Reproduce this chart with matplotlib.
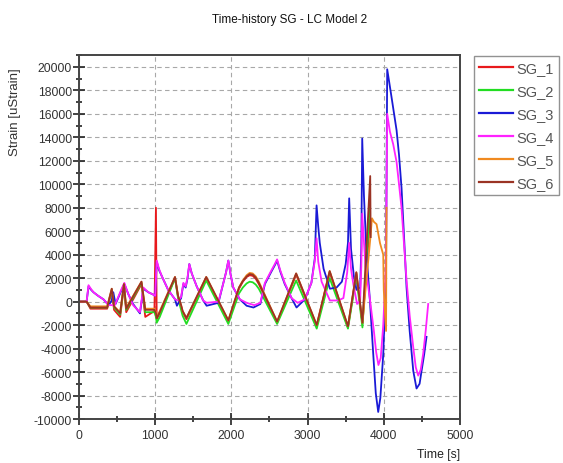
import matplotlib
matplotlib.use("Agg")
import matplotlib.pyplot as plt
from matplotlib.ticker import MultipleLocator

plt.rcParams['font.family'] = ['Liberation Sans', 'DejaVu Sans']
plt.rcParams['axes.unicode_minus'] = False

# strain gauge histories (time in s, strain in uStrain)
t_sg1 = [0, 100, 150, 370, 430, 460, 540, 590, 620, 820, 870, 990, 1010, 1020, 1060, 1260, 1300,
         1340, 1360, 1410, 1670, 1960, 2100, 2150, 2200, 2240, 2280, 2320, 2360, 2600, 2850, 3120,
         3290, 3530, 3640, 3720, 3820]
v_sg1 = [0, 0, -600, -600, 900, -700, -1300, 1300, -900, 1500, -1300, -800, 8000, -1500, -1000, 2000, 400,
         -400, -900, -1500, 2000, -1700, 1100, 1700, 2100, 2250, 2200, 1950, 1500, -1800, 2300, -2100,
         2500, -2200, 2400, -1900, 7000]

t_sg2 = [0, 100, 150, 370, 430, 460, 540, 590, 620, 820, 870, 990, 1010, 1020, 1060, 1260, 1300,
         1340, 1360, 1410, 1670, 1960, 2100, 2150, 2200, 2240, 2280, 2320, 2360, 2600, 2850, 3120,
         3290, 3530, 3640, 3720, 3815]
v_sg2 = [0, 0, -500, -500, 1000, -500, -1100, 1400, -700, 1600, -900, -900, -1300, -1800, -1300, 2000, 300,
         -700, -1200, -1900, 1800, -1900, 700, 1200, 1550, 1700, 1650, 1450, 1100, -1900, 1800, -2300,
         2000, -2300, 2100, -2200, 8000]

t_sg3 = [0, 100, 125, 160, 190, 250, 320, 390, 430, 450, 480, 560, 595, 650, 710, 800, 845, 910,
         975, 1000, 1020, 1050, 1085, 1170, 1260, 1285, 1340, 1370, 1400, 1425, 1448, 1480, 1545,
         1630, 1675, 1830, 1895, 1930, 1960, 1990, 2025, 2110, 2200, 2290, 2380, 2440, 2520, 2570,
         2600, 2640, 2700, 2790, 2855, 2965, 3050, 3095, 3118, 3140, 3160, 3210, 3293, 3380, 3450,
         3500, 3530, 3546, 3570, 3610, 3643, 3690, 3705, 3717, 3740, 3774, 3818, 3862, 3895, 3927,
         3955, 3993, 4010, 4028, 4045, 4100, 4168, 4200, 4233, 4270, 4299, 4340, 4387, 4430, 4470,
         4496, 4530, 4561]
v_sg3 = [0, 0, 1300, 1000, 800, 500, 200, -300, 100, 800, -200, 1000, 1500, 600, -200, -1000, 1100, 800,
         600, 500, 3400, 2700, 2200, 1000, 200, -350, 300, 1500, 1200, 2000, 3200, 2400, 1300,
         100, -350, -100, 1600, 2500, 3500, 2300, 1200, 200, -350, -500, -200, 1500, 2500, 3100,
         3500, 2600, 1500, 300, -500, 200, 1600, 3700, 8200, 6400, 5000, 2800, 1100, 1200, 1700,
         3200, 5000, 8800, 4500, 2000, 1000, 1200, 4500, 13900, 9000, 4000, 100, -4500, -7800, -9400,
         -8200, -4500, -1500, 1200, 19800, 17500, 14600, 12500, 9700, 5000, 1200, -2500, -5900, -7400, -7000,
         -5900, -4500, -3000]

t_sg4 = [0, 100, 125, 160, 190, 250, 320, 390, 470, 560, 595, 650, 710, 800, 845, 910, 975,
         1000, 1020, 1050, 1085, 1170, 1260, 1300, 1340, 1370, 1400, 1425, 1448, 1480, 1545, 1630,
         1675, 1830, 1895, 1930, 1960, 1990, 2025, 2110, 2200, 2300, 2380, 2440, 2520, 2570, 2600,
         2640, 2700, 2790, 2870, 2965, 3050, 3095, 3118, 3140, 3184, 3293, 3400, 3470, 3520, 3546,
         3570, 3600, 3650, 3690, 3705, 3717, 3760, 3818, 3870, 3900, 3930, 3960, 3993, 4028, 4045,
         4080, 4124, 4168, 4200, 4233, 4270, 4299, 4340, 4387, 4420, 4452, 4485, 4518, 4550, 4583]
v_sg4 = [0, 0, 1400, 1050, 800, 500, 200, -300, -300, 1100, 1600, 600, -300, -900, 1200, 800, 600,
         500, 3500, 2800, 2200, 1000, 200, 100, 400, 1600, 1300, 2100, 3200, 2400, 1300, 100,
         -100, 0, 1600, 2500, 3500, 2300, 1200, 200, -100, -300, -100, 1600, 2600, 3200, 3600,
         2700, 1600, 300, -100, 200, 1600, 3500, 5400, 3400, 1700, 100, 100, 300, 2500, 5000,
         2800, 1500, -200, 100, 3000, 7500, 3000, 200, -2500, -4300, -5400, -4800, -2000, 3000, 16000,
         14500, 13400, 11900, 10000, 8000, 4500, 1800, -1200, -3900, -5600, -6300, -5800, -4400, -2500, -200]

t_sg5 = [0, 100, 150, 370, 430, 460, 540, 590, 620, 820, 870, 990, 1010, 1020, 1060, 1260, 1300,
         1340, 1360, 1410, 1670, 1960, 2100, 2150, 2200, 2240, 2280, 2320, 2360, 2600, 2850, 3120,
         3290, 3530, 3640, 3720, 3825, 3845, 3870, 3905, 3950, 3993, 4000, 4030, 4036]
v_sg5 = [0, 0, -400, -400, 1100, -400, -900, 1500, -500, 1700, -600, -600, -900, -1300, -800, 2100, 500,
         -300, -800, -1400, 2100, -1600, 1200, 1800, 2250, 2450, 2400, 2150, 1700, -1700, 2400, -2000,
         2600, -2100, 2500, -1800, 5500, 7100, 6800, 6600, 5000, 4000, 1000, -2500, 8000]

t_sg6 = [0, 100, 150, 370, 430, 460, 540, 590, 620, 820, 870, 990, 1010, 1020, 1060, 1260, 1300,
         1340, 1360, 1410, 1670, 1960, 2100, 2150, 2200, 2240, 2280, 2320, 2360, 2600, 2850, 3120,
         3290, 3530, 3640, 3720, 3822, 3828]
v_sg6 = [0, 0, -500, -500, 1100, -400, -1000, 1500, -600, 1700, -700, -700, -1000, -1400, -900, 2100, 500,
         -300, -800, -1400, 2100, -1600, 1200, 1750, 2150, 2350, 2300, 2050, 1600, -1700, 2400, -2000,
         2600, -2100, 2500, -1800, 10700, 5500]

nombres = ["SG_1", "SG_2", "SG_3", "SG_4", "SG_5", "SG_6"]
colores = ["#e8191c", "#22dd22", "#1a1ad6", "#ff22ff", "#f08a20", "#9a3324"]
series = [(t_sg1, v_sg1), (t_sg2, v_sg2), (t_sg3, v_sg3),
          (t_sg4, v_sg4), (t_sg5, v_sg5), (t_sg6, v_sg6)]

fig = plt.figure(figsize=(5.63, 4.64), dpi=100, facecolor="white")
ax = fig.add_axes([0.1403, 0.0948, 0.6767, 0.7842])

for (t, v), nombre, color in zip(series, nombres, colores):
    ax.plot(t, v, color=color, linewidth=1.3, label=nombre)

ax.set_xlim(0, 5000)
ax.set_ylim(-10000, 21000)
ax.xaxis.set_major_locator(MultipleLocator(1000))
ax.xaxis.set_minor_locator(MultipleLocator(500))
ax.yaxis.set_minor_locator(MultipleLocator(1000))
ax.set_yticks(range(-10000, 20001, 2000))

ax.grid(True, which="major", color="#a8a8a8", linestyle=(0, (4, 3)), linewidth=0.8)
ax.tick_params(which="major", direction="inout", length=8, width=1.2, color="#222222",
               labelsize=8.8, labelcolor="#333333", pad=1)
ax.tick_params(which="minor", direction="inout", length=5, width=1.2, color="#222222")
ax.tick_params(axis="x", pad=3)
for lado in ax.spines.values():
    lado.set_linewidth(1.4)
    lado.set_color("#444444")

fig.text(0.515, 0.957, "Time-history SG - LC Model 2", ha="center", va="center",
         fontsize=8.5, color="#111111")
fig.text(0.027, 0.759, "Strain [uStrain]", rotation=90, ha="center", va="center",
         fontsize=9.5, color="#333333")
fig.text(0.817, 0.019, "Time [s]", ha="right", va="center", fontsize=8.8, color="#222222")

leg = fig.legend(loc="upper left", bbox_to_anchor=(0.842, 0.877), frameon=True, fancybox=False,
                 fontsize=10.5, labelspacing=0.62, handlelength=2.3, handletextpad=0.25,
                 borderpad=0.35, borderaxespad=0)
leg.get_frame().set_edgecolor("#777777")
leg.get_frame().set_linewidth(1.0)
for texto in leg.get_texts():
    texto.set_color("#555555")
for linea in leg.get_lines():
    linea.set_linewidth(1.6)

fig.savefig("out.png", dpi=100, facecolor="white")
